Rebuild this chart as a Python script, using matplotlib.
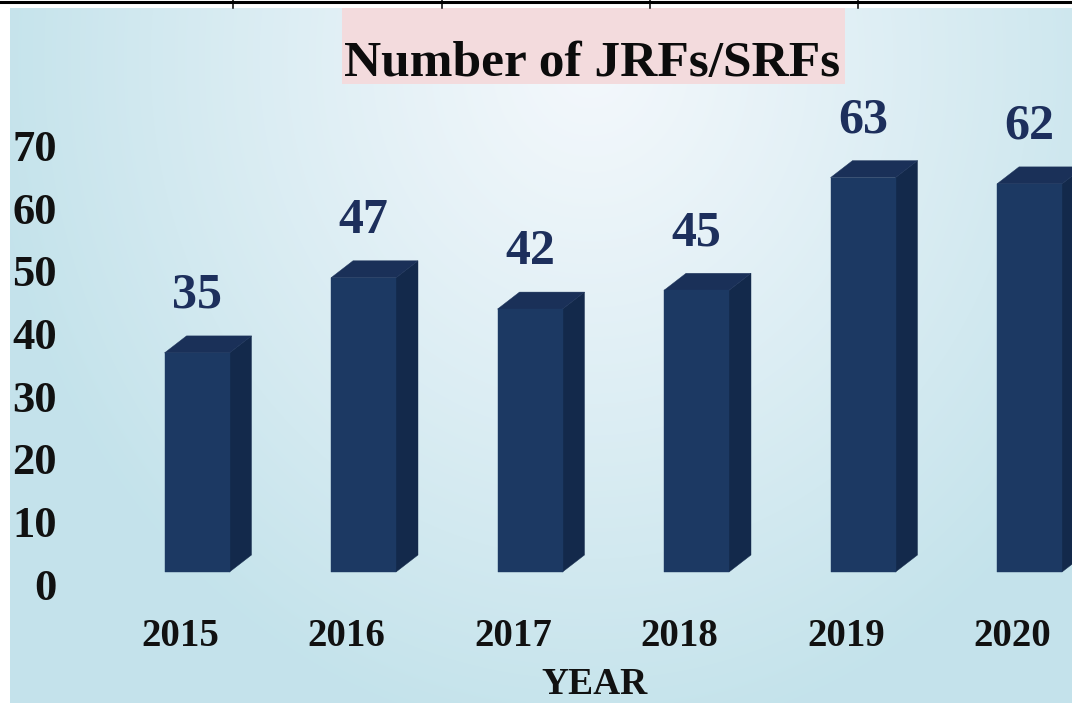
import numpy as np
import matplotlib.pyplot as plt
from matplotlib.patches import Rectangle, Polygon
from matplotlib.lines import Line2D
from matplotlib.transforms import ScaledTranslation

# data
years = ["2015", "2016", "2017", "2018", "2019", "2020"]
counts = [35, 47, 42, 45, 63, 62]
y_ticks = [0, 10, 20, 30, 40, 50, 60, 70]

W, H = 1072, 703
SERIF = ["Liberation Serif", "DejaVu Serif"]
FRONT, SIDE, TOP = "#1c3963", "#13294b", "#1a3058"
NAVY_TEXT = "#1d2f5c"


def fx(px):
    return px / W


def fy(py):  # pixel measured from top
    return 1 - py / H


fig = plt.figure(figsize=(W / 100, H / 100), dpi=100)

# light radial gradient background (starts a few px in from left/top)
bg = fig.add_axes([fx(10), 0, 1 - fx(10), (H - 8) / H], zorder=0)
gx, gy = np.meshgrid(np.arange(10, W), np.arange(8, H))
d = np.sqrt(((gx - 590) / 600.0) ** 2 + ((gy - 60) / 680.0) ** 2)
t = np.clip(d, 0, 1) ** 1.1
c0 = np.array([0.955, 0.972, 0.988])
c1 = np.array([0.77, 0.89, 0.922])
img = c0[None, None, :] * (1 - t[..., None]) + c1[None, None, :] * t[..., None]
bg.imshow(img, aspect="auto", interpolation="bilinear")
bg.axis("off")

# table border remnant at very top
fig.add_artist(Line2D([0, 1], [fy(1.5), fy(1.5)], color="black", lw=2.2,
                      transform=fig.transFigure))
for xp in [233, 442, 650, 858]:
    fig.add_artist(Line2D([fx(xp), fx(xp)], [fy(0), fy(8)], color="black",
                          lw=1.1, transform=fig.transFigure))

# title with pink box
fig.add_artist(Rectangle((fx(342), fy(84)), fx(845) - fx(342), (84 - 8) / H,
                         transform=fig.transFigure, fc="#f3dbdd", ec="none",
                         zorder=1))
fig.text(fx(592), fy(76), "Number of JRFs/SRFs", ha="center", va="baseline",
         fontsize=37, fontweight="bold", family=SERIF, color="#0c0c0c",
         zorder=2)

# main axes: category i -> front face centre, value 0 -> front bottom
ppx, ppy = 166.5, 6.26
x_left, x_right = -0.7, 5.2
y_top = 80
left_px = 197 + x_left * ppx
right_px = 197 + x_right * ppx
top_px = 572 - y_top * ppy
ax = fig.add_axes([fx(left_px), fy(572), fx(right_px) - fx(left_px),
                   (572 - top_px) / H], zorder=3)
ax.set_facecolor("none")
ax.set_xlim(x_left, x_right)
ax.set_ylim(0, y_top)
for s in ax.spines.values():
    s.set_visible(False)

w = 65 / ppx
dx, dy = 22 / ppx, 17 / ppy
for i, v in enumerate(counts):
    x0, x1 = i - w / 2, i + w / 2
    ax.add_patch(Polygon([(x1, 0), (x1 + dx, dy), (x1 + dx, v + dy), (x1, v)],
                         closed=True, fc=SIDE, ec=SIDE, lw=0.3, clip_on=False))
    ax.add_patch(Polygon([(x0, v), (x1, v), (x1 + dx, v + dy), (x0 + dx, v + dy)],
                         closed=True, fc=TOP, ec=TOP, lw=0.3, clip_on=False))
    ax.add_patch(Rectangle((x0, 0), w, v, fc=FRONT, ec=FRONT, lw=0.3,
                           clip_on=False))
    ax.annotate(str(v), (i, v), xytext=(0, 41), textcoords="offset points",
                ha="center", va="center", fontsize=36, fontweight="bold",
                family=SERIF, color=NAVY_TEXT, annotation_clip=False)

ax.set_yticks(y_ticks)
ax.set_yticklabels([str(v) for v in y_ticks])
ax.set_xticks(range(len(years)))
ax.set_xticklabels(years)
ax.tick_params(axis="y", length=0, pad=17)
ax.tick_params(axis="x", length=0, pad=33)
for lab in ax.get_yticklabels():
    lab.set_fontsize(32)
    lab.set_fontweight("bold")
    lab.set_family(SERIF)
    lab.set_color("#111111")
    lab.set_transform(lab.get_transform() +
                      ScaledTranslation(0, -0.12, fig.dpi_scale_trans))
for lab in ax.get_xticklabels():
    lab.set_fontsize(28)
    lab.set_fontweight("bold")
    lab.set_family(SERIF)
    lab.set_color("#111111")
    lab.set_transform(lab.get_transform() +
                      ScaledTranslation(-0.17, 0, fig.dpi_scale_trans))

fig.text(fx(595), fy(684), "YEAR", ha="center", va="center", fontsize=27,
         fontweight="bold", family=SERIF, color="#111111", zorder=4)

fig.savefig("out.png", dpi=100)
